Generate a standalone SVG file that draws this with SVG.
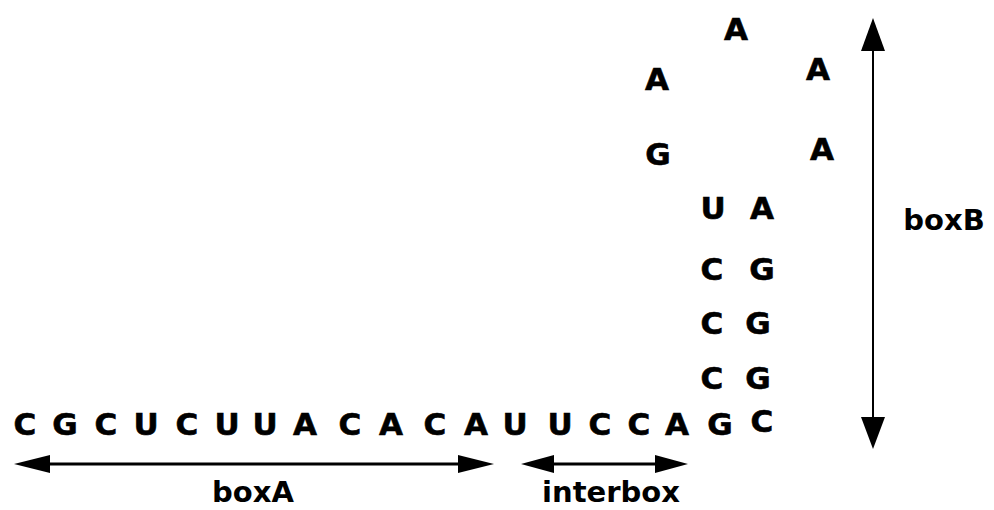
<svg xmlns="http://www.w3.org/2000/svg" width="994" height="510" viewBox="0 0 994 510">
  <style>
    .nt { font-family: "DejaVu Sans", "Liberation Sans", Arial, sans-serif; font-weight: bold; font-size: 31px; fill: #000; stroke: #000; stroke-width: 0.6; text-anchor: middle; }
    .lbl { font-family: "DejaVu Sans", "Liberation Sans", Arial, sans-serif; font-weight: bold; font-size: 29px; fill: #000; text-anchor: middle; }
    .shaft { stroke: #000; stroke-width: 3; fill: none; }
    .head { fill: #000; stroke: none; }
  </style>
  <rect width="994" height="510" fill="#fff"/>

  <!-- linear strand: box A + interbox -->
  <g id="strand">
    <text class="nt" x="25" y="435">C</text>
    <text class="nt" x="65" y="435">G</text>
    <text class="nt" x="106" y="435">C</text>
    <text class="nt" x="146" y="435">U</text>
    <text class="nt" x="187" y="435">C</text>
    <text class="nt" x="227" y="435">U</text>
    <text class="nt" x="265" y="435">U</text>
    <text class="nt" x="305" y="435">A</text>
    <text class="nt" x="350" y="435">C</text>
    <text class="nt" x="391" y="435">A</text>
    <text class="nt" x="435" y="435">C</text>
    <text class="nt" x="476" y="435">A</text>
    <text class="nt" x="515" y="435">U</text>
    <text class="nt" x="560" y="435">U</text>
    <text class="nt" x="600" y="435">C</text>
    <text class="nt" x="639" y="435">C</text>
    <text class="nt" x="677" y="435">A</text>
    <text class="nt" x="720" y="435">G</text>
    <text class="nt" x="762" y="432">C</text>
  </g>

  <!-- stem (box B) -->
  <g id="stem">
    <text class="nt" x="713" y="219">U</text>
    <text class="nt" x="762" y="219">A</text>
    <text class="nt" x="712" y="280">C</text>
    <text class="nt" x="762" y="280">G</text>
    <text class="nt" x="712" y="334">C</text>
    <text class="nt" x="758" y="334">G</text>
    <text class="nt" x="712" y="389">C</text>
    <text class="nt" x="758" y="389">G</text>
  </g>

  <!-- loop -->
  <g id="loop">
    <text class="nt" x="658" y="165">G</text>
    <text class="nt" x="657" y="90">A</text>
    <text class="nt" x="736" y="40">A</text>
    <text class="nt" x="818" y="80">A</text>
    <text class="nt" x="822" y="160">A</text>
  </g>

  <!-- labels -->
  <g id="labels">
    <text class="lbl" x="253" y="502">boxA</text>
    <text class="lbl" x="611" y="502" textLength="138" lengthAdjust="spacingAndGlyphs">interbox</text>
    <text class="lbl" x="944" y="230">boxB</text>
  </g>

  <!-- span arrows -->
  <g id="connectors">
    <g id="arrow-boxA">
      <line class="shaft" x1="45" y1="464" x2="463" y2="464"/>
      <polygon class="head" points="14,464 50,455 50,473"/>
      <polygon class="head" points="494,464 458,455 458,473"/>
    </g>
    <g id="arrow-interbox">
      <line class="shaft" x1="545" y1="464" x2="665" y2="464"/>
      <polygon class="head" points="521,464 554,455 554,473"/>
      <polygon class="head" points="688,464 655,455 655,473"/>
    </g>
    <g id="arrow-boxB">
      <line class="shaft" x1="873" y1="45" x2="873" y2="422" style="stroke-width:2"/>
      <polygon class="head" points="873,18 861,51 885,51"/>
      <polygon class="head" points="873,449 861,417 885,417"/>
    </g>
  </g>
</svg>
